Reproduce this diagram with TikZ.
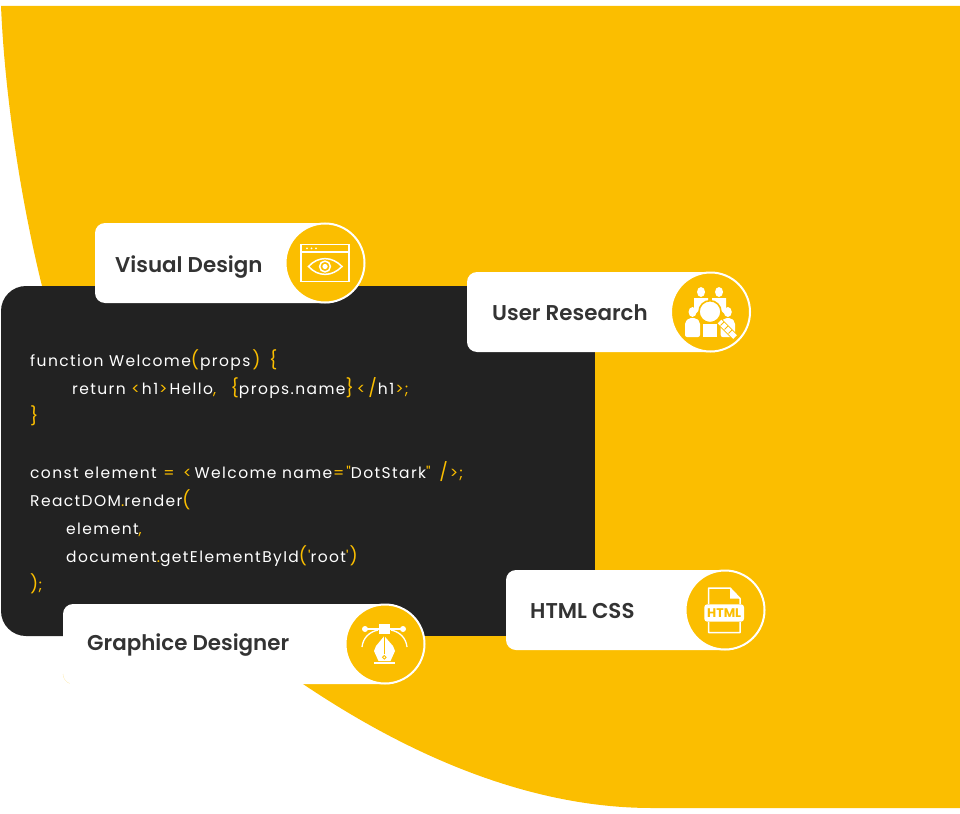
\documentclass[tikz,border=0pt]{standalone}
\usepackage{fontspec}
\setmainfont{Poppins}
\newfontfamily\cardfont{Poppins SemiBold}
\newfontfamily\codefont{Poppins}[LetterSpace=9]
\definecolor{amber}{HTML}{FBBE00}
\definecolor{ink}{HTML}{222222}
\definecolor{cardtext}{HTML}{333333}
\newcommand\yy[1]{\textcolor{amber}{#1}}
\newcommand\yb[1]{\textcolor{amber}{\fontsize{18}{20}\selectfont\raisebox{-0.5pt}{#1}}}
\newcommand\ks[1]{\kern#1pt\relax}
\tikzset{
  cardbox/.style={fill=white,rounded corners=10pt},
  disc/.style={circle,fill=amber,draw=white,line width=2pt,minimum size=79pt,inner sep=0pt},
  cardlabel/.style={anchor=base west,text=cardtext,font=\cardfont\fontsize{21.4}{25}\selectfont,inner sep=0pt},
  codeline/.style={anchor=base west,text=white,font=\codefont\fontsize{15.5}{18}\selectfont,inner sep=0pt},
  iconline/.style={draw=white,line width=1.5pt,fill=none}
}
\begin{document}
\begin{tikzpicture}[x=1pt,y=-1pt]
\useasboundingbox (0,0) rectangle (960,813);
% amber field
\fill[amber] (1,6) .. controls (5,100) and (22,205) .. (42,286)
  .. controls (73,416) and (193,611) .. (303,684)
  .. controls (410,756) and (530,808) .. (652,808) -- (960,808) -- (960,6) -- cycle;
% dark panel
\fill[ink,rounded corners=25pt] (300,286) -- (1,286) -- (1,636) -- (300,636) -- cycle;
\fill[ink] (280,286) rectangle (595,636);
% code
\node[codeline] (c1) at (30,366) {function Welcome\yb{(}\ks{1}props\ks{2}\yb{)}\ks{3} \yb{\{}};
\node[codeline] (c2) at (72,394) {return \yy{<}\ks{2}h1\ks{1}\yy{>}\ks{2}Hello\yy{,} \ks{9}\yb{\{}props.name\yb{\}}\ks{3}\yy{<}\ks{3}\yb{/}\ks{1}h1\ks{1}\yy{>}\ks{1}\yy{;}};
\node[codeline] (c3) at (30,422) {\yb{\}}};
\node[codeline] (c4) at (30,478) {const element \ks{1}\yy{=} \ks{3}\yy{<}\ks{3}Welcome name\ks{1}\yy{=}\ks{2}\yy{"}DotStark\yy{"} \ks{3}\yb{/}\ks{2}\yy{>}\ks{1}\yy{;}};
\node[codeline] (c5) at (30,506) {ReactDOM\yy{.}render\yb{(}};
\node[codeline] (c6) at (66,534) {element\yy{,}};
\node[codeline] (c7) at (66,562) {document\yy{.}getElementById\yb{(}\ks{1}\yy{'}root\yy{'}\ks{1}\yb{)}};
\node[codeline] (c8) at (30,590) {\yb{)}\yy{;}};
% cards
\fill[cardbox] (95,223) rectangle (340,303);
\fill[cardbox] (467,272) rectangle (725,352);
\fill[cardbox] (506,570) rectangle (740,650);
\fill[cardbox] (63,604) rectangle (400,684);
\draw[amber!35,line width=0.3pt] (63,674) arc[start angle=180,end angle=250,radius=10pt];
\node[disc] (d1) at (325,263) {};
\node[disc] (d2) at (710.5,312) {};
\node[disc] (d3) at (725,610) {};
\node[disc] (d4) at (385,644) {};
\node[cardlabel] (l1) at (115,272) {Visual Design};
\node[cardlabel] (l2) at (492,320) {User Research};
\node[cardlabel] (l3) at (530,618) {HTML CSS};
\node[cardlabel] (l4) at (87,650) {Graphice Designer};
% eye icon
\draw[iconline] (301,244.5) rectangle (349,281.5);
\draw[iconline] (301,252) -- (349,252);
\foreach \x in {307,311.5,316}{\fill[white] (\x,248.3) circle[radius=1pt];}
\draw[iconline] (308.5,266.5) .. controls (318,256) and (332,256) .. (342,266.5)
  .. controls (332,277) and (318,277) .. cycle;
\draw[iconline] (325,266.5) circle[radius=5.4pt];
\fill[white] (325,266.5) circle[radius=2.6pt];
% people icon
\foreach \x/\y in {701/292,719/292,692.5/312,727.8/312}{\fill[white] (\x,\y) ellipse[x radius=4pt,y radius=5pt];}
\fill[white] (694,298) -- (708,298) -- (708,305) -- (702,308) -- (694,315) -- cycle;
\fill[white] (712,298) -- (726,298) -- (726,315) -- (718,308) -- (712,305) -- cycle;
\fill[white,rounded corners=2pt] (685,337) -- (685,322) -- (689,318) -- (696,318) -- (700,322) -- (700,337) -- cycle;
\fill[white] (702.8,337) -- (702.8,324) -- (717.3,324) -- (717.3,337) -- cycle;
\fill[white,rounded corners=2pt] (720.7,337) -- (720.7,322) -- (725,318) -- (731,318) -- (735,322) -- (735,337) -- cycle;
\draw[amber,line width=1.6pt,fill=white] (710,311.7) circle[radius=11pt];
\draw[amber,line width=7pt] (718.5,320.5) -- (737,339);
\draw[white,line width=5pt] (719.5,321.5) -- (735,337);
\draw[amber,line width=0.8pt] (724,322) -- (720.5,325.5) (728,326) -- (724.5,329.5) (732,330) -- (728.5,333.5);
% html icon
\draw[iconline,line join=round] (708.5,604) -- (708.5,588) -- (730,588) -- (740,598.5) -- (740,604) (740,622) -- (740,632.5) -- (708.5,632.5) -- (708.5,622);
\fill[white] (730,588) -- (730,598.5) -- (740,598.5) -- cycle;
\fill[white,rounded corners=3pt] (704.3,604.3) rectangle (744,621.7);
\node[text=amber,font=\fontsize{12.5}{14}\bfseries\selectfont,inner sep=0pt] (h) at (724.2,613) {HTML};
% pen icon
\draw[white,line width=1.2pt] (365,629) -- (403,629);
\fill[white] (365,629) circle[radius=3pt];
\fill[white] (403,629) circle[radius=3pt];
\fill[white] (379,624) rectangle (389.5,633.5);
\draw[white,line width=1.3pt] (362,647) .. controls (363,638) and (369,632) .. (378,630);
\draw[white,line width=1.3pt] (407,647) .. controls (406,638) and (400,632) .. (391,630);
\fill[white] (384.3,636) -- (376,646) -- (374,651) -- (378.5,661) -- (390.5,661) -- (395,651) -- (393,646) -- cycle;
\fill[white] (374,662) rectangle (394.5,664);
\draw[amber,line width=0.9pt] (384.3,636) -- (384.3,654);
\draw[amber,line width=0.9pt] (384.3,657.3) circle[radius=1.8pt];
\end{tikzpicture}
\end{document}
